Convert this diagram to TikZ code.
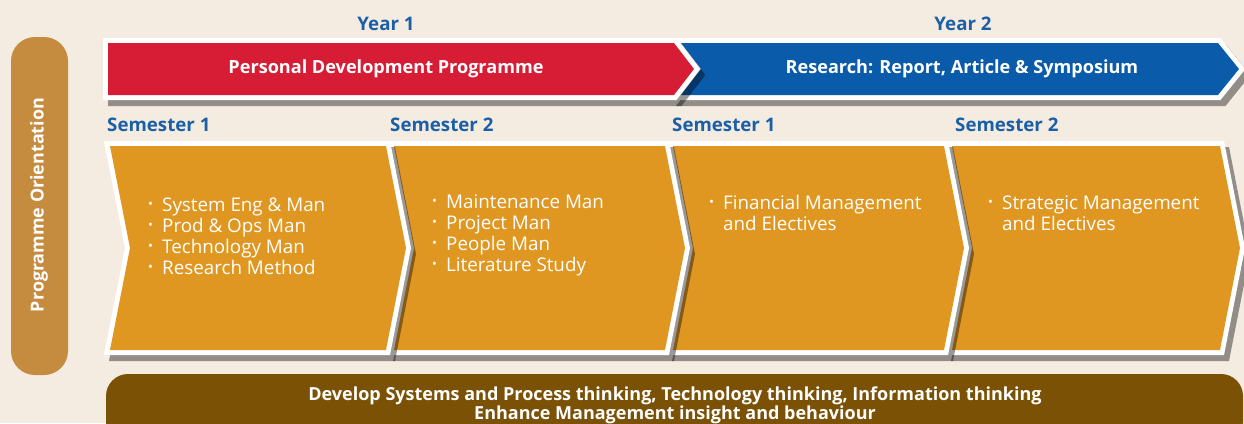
\documentclass[tikz,border=0pt]{standalone}
\usepackage{fontspec}
\setmainfont{Open Sans}
\definecolor{bg}{HTML}{F5ECE1}
\definecolor{pillc}{HTML}{C58B3F}
\definecolor{redc}{HTML}{D71D35}
\definecolor{bluec}{HTML}{0A5BA9}
\definecolor{orangec}{HTML}{E09722}
\definecolor{barc}{HTML}{7A5105}
\definecolor{headc}{HTML}{1B5FA7}
\tikzset{
  shadowfill/.style={fill=black,opacity=0.4},
  heading/.style={text=headc,font=\fontsize{18.7}{22}\selectfont\bfseries,inner sep=0pt},
  bannertext/.style={text=white,font=\fontsize{18.1}{22}\selectfont\bfseries,inner sep=0pt,anchor=base},
  bullets/.style={text=white,font=\fontsize{18.8}{21}\selectfont,inner sep=0pt,anchor=base west},
}
\newcommand\bul{\makebox[14pt][l]{\raisebox{3.2pt}{\fontsize{13}{13}\selectfont\textbullet}}}
\begin{document}
\begin{tikzpicture}[x=1pt,y=-1pt]
\useasboundingbox (0,0) rectangle (1244,423);
\fill[bg] (0,0) rectangle (1244,423);
\clip (0,0) rectangle (1244,423);

% left pill
\fill[pillc,rounded corners=24pt] (11,37) rectangle (68,375);
\node[rotate=90,text=white,font=\fontsize{17.9}{20}\selectfont\bfseries,inner sep=0pt] (orient) at (39,205) {Programme Orientation};

% bottom bar
\fill[barc,rounded corners=22pt] (106,374) rectangle (1243,450);
\node[text=white,font=\fontsize{18}{19}\selectfont\bfseries,inner sep=0pt,anchor=base] (devel) at (675,400.5)
  {\begin{tabular}[t]{@{}c@{}}Develop Systems and Process thinking, Technology thinking, Information thinking\\Enhance Management insight and behaviour\end{tabular}};

% year labels
\node[heading] (year1) at (386,24) {Year 1};
\node[heading] (year2) at (963,24) {Year 2};

% banner: blue
\begin{scope}[shift={(5,6)}]
\fill[shadowfill] (671,38) -- (1220.5,38) -- (1245.4,69) -- (1220.5,100) -- (671,100) -- (694.7,69) -- cycle;
\end{scope}
\fill[white] (671,38) -- (1220.5,38) -- (1245.4,69) -- (1220.5,100) -- (671,100) -- (694.7,69) -- cycle;
\fill[bluec] (681,43) -- (1218,43) -- (1239,69) -- (1218,95) -- (681,95) -- (701,69) -- cycle;
% banner: red
\begin{scope}[shift={(5,6)}]
\fill[shadowfill] (103,38) -- (676.5,38) -- (700.3,69) -- (676.5,100) -- (103,100) -- cycle;
\end{scope}
\fill[white] (103,38) -- (676.5,38) -- (700.3,69) -- (676.5,100) -- (103,100) -- cycle;
\fill[redc] (108,43) -- (674,43) -- (694,69) -- (674,95) -- (108,95) -- cycle;

\node[bannertext] (pdp) at (386,73.5) {Personal Development Programme};
\node[bannertext] (res) at (962,73.5) {Research: Report, Article \& Symposium};

% semester labels
\node[heading,anchor=base west] (s1) at (107,131.5) {Semester 1};
\node[heading,anchor=base west] (s2) at (390,131.5) {Semester 2};
\node[heading,anchor=base west] (s3) at (672,131.5) {Semester 1};
\node[heading,anchor=base west] (s4) at (955,131.5) {Semester 2};

% chevrons, right to left
\foreach \L/\R in {952/1220, 673/944, 394/665, 110/386} {
  \begin{scope}[shift={(5,6)}]
  \fill[shadowfill] (\L-6,141) -- (\R+4,141) -- (\R+25,248) -- (\R+4,355) -- (\L-6,355) -- (\L+15,248) -- cycle;
  \end{scope}
  \fill[white] (\L-6,141) -- (\R+4,141) -- (\R+25,248) -- (\R+4,355) -- (\L-6,355) -- (\L+15,248) -- cycle;
  \fill[orangec] (\L,146) -- (\R,146) -- (\R+20,248) -- (\R,350) -- (\L,350) -- (\L+20,248) -- cycle;
}

\node[bullets] (t1) at (148,211.5) {\begin{tabular}[t]{@{}l@{}l@{}}
\bul & System Eng \& Man\\ \bul & Prod \& Ops Man\\ \bul & Technology Man\\ \bul & Research Method\end{tabular}};
\node[bullets] (t2) at (432,208.5) {\begin{tabular}[t]{@{}l@{}l@{}}
\bul & Maintenance Man\\ \bul & Project Man\\ \bul & People Man\\ \bul & Literature Study\end{tabular}};
\node[bullets] (t3) at (709,209.5) {\begin{tabular}[t]{@{}l@{}l@{}}
\bul & Financial Management\\ & and Electives\end{tabular}};
\node[bullets] (t4) at (988,209.5) {\begin{tabular}[t]{@{}l@{}l@{}}
\bul & Strategic Management\\ & and Electives\end{tabular}};
\end{tikzpicture}
\end{document}
